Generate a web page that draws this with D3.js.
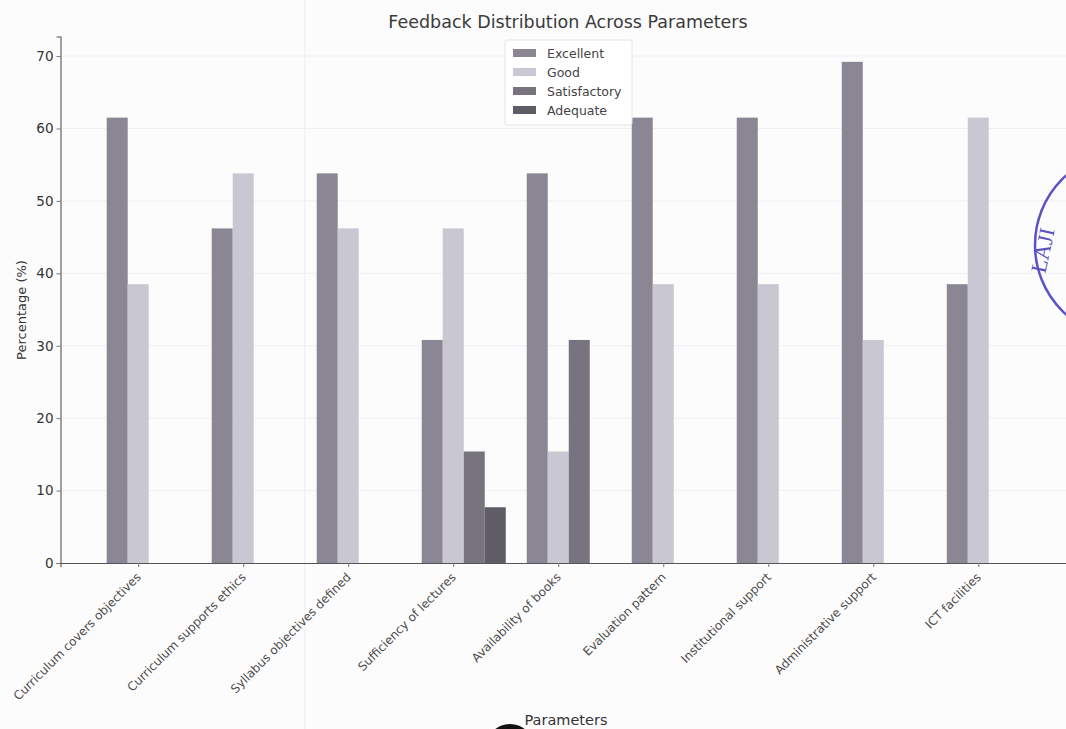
<!DOCTYPE html>
<html>
<head>
<meta charset="utf-8">
<script src="https://cdn.jsdelivr.net/npm/d3@7"></script>
<style>
  html, body { margin: 0; padding: 0; background: #fdfcfd; }
  svg { display: block; font-family: "DejaVu Sans", sans-serif; }
</style>
</head>
<body>
<svg id="chart" width="1066" height="729"></svg>
<script>
const categories = [
  "Curriculum covers objectives",
  "Curriculum supports ethics",
  "Syllabus objectives defined",
  "Sufficiency of lectures",
  "Availability of books",
  "Evaluation pattern",
  "Institutional support",
  "Administrative support",
  "ICT facilities"
];
const seriesNames = ["Excellent", "Good", "Satisfactory", "Adequate"];
const excellent    = [61.5, 46.2, 53.8, 30.8, 53.8, 61.5, 61.5, 69.2, 38.5];
const good         = [38.5, 53.8, 46.2, 46.2, 15.4, 38.5, 38.5, 30.8, 61.5];
const satisfactory = [0, 0, 0, 15.4, 30.8, 0, 0, 0, 0];
const adequate     = [0, 0, 0, 7.7, 0, 0, 0, 0, 0];
const yTicks = [0, 10, 20, 30, 40, 50, 60, 70];
const colors = ["#8a8694", "#c9c7d2", "#77737f", "#5f5b67"];

const seriesValues = [excellent, good, satisfactory, adequate];
const barW = 0.2;

const svg = d3.select("#chart");
const x = d3.scaleLinear().domain([-0.54, 9.14]).range([60.5, 1077]);
const y = d3.scaleLinear().domain([0, 72.7]).range([563, 36.5]);

// faint scan artefact line
svg.append("line").attr("x1", 305).attr("x2", 305).attr("y1", 0).attr("y2", 729)
  .attr("stroke", "#efedf1").attr("stroke-width", 1.2);

// faint gridlines
svg.append("g").selectAll("line").data(yTicks.filter(d => d > 0)).join("line")
  .attr("x1", x(-0.54)).attr("x2", 1077)
  .attr("y1", d => y(d)).attr("y2", d => y(d))
  .attr("stroke", "#f1eff3").attr("stroke-width", 1);

// bars
seriesValues.forEach((vals, s) => {
  svg.append("g").selectAll("rect")
    .data(vals.map((v, i) => ({ v, i })).filter(d => d.v > 0))
    .join("rect")
    .attr("x", d => x(d.i + s * barW - barW / 2))
    .attr("width", x(barW) - x(0))
    .attr("y", d => y(d.v))
    .attr("height", d => y(0) - y(d.v))
    .attr("fill", colors[s]);
});

// axes
const yAxis = d3.axisLeft(y).tickValues(yTicks).tickSize(4).tickPadding(3).tickFormat(d3.format("d"));
const gy = svg.append("g").attr("transform", `translate(${x(-0.54)},0)`).call(yAxis);
gy.select(".domain").attr("stroke", "#555").attr("stroke-width", 1.1);
gy.selectAll(".tick line").attr("stroke", "#777");
gy.selectAll(".tick text").attr("fill", "#333").attr("font-size", "13.5px").attr("font-family", "DejaVu Sans");

const xAxis = d3.axisBottom(x).tickValues(categories.map((c, i) => i + barW)).tickSize(4)
  .tickFormat((d, i) => categories[i]);
const gx = svg.append("g").attr("transform", `translate(0,${y(0)})`).call(xAxis);
gx.select(".domain").attr("stroke", "#555").attr("stroke-width", 1.1);
gx.selectAll(".tick line").attr("stroke", "#777");
gx.selectAll(".tick text")
  .attr("fill", "#4a4a4a").attr("font-size", "12px").attr("font-family", "DejaVu Sans")
  .attr("text-anchor", "end")
  .attr("dy", "0")
  .attr("transform", "translate(-2,10) rotate(-45)");

// title and labels
svg.append("text").attr("x", 568).attr("y", 28).attr("text-anchor", "middle")
  .attr("font-size", "17.5px").attr("fill", "#3a3a3a").text("Feedback Distribution Across Parameters");
svg.append("text").attr("transform", "translate(26,310) rotate(-90)").attr("text-anchor", "middle")
  .attr("font-size", "13px").attr("fill", "#333").text("Percentage (%)");
svg.append("text").attr("x", 566).attr("y", 725).attr("text-anchor", "middle")
  .attr("font-size", "14.5px").attr("fill", "#333").text("Parameters");

// legend
const lg = svg.append("g").attr("transform", "translate(505,40)");
lg.append("rect").attr("width", 127).attr("height", 85).attr("rx", 2)
  .attr("fill", "#ffffff").attr("stroke", "#e4e2e6");
seriesNames.forEach((n, i) => {
  lg.append("rect").attr("x", 8).attr("y", 9 + i * 19).attr("width", 23).attr("height", 8).attr("fill", colors[i]);
  lg.append("text").attr("x", 42).attr("y", 17.5 + i * 19).attr("font-size", "12.5px").attr("fill", "#444").text(n);
});

// scan artefacts: punch hole and stamp
svg.append("circle").attr("cx", 510).attr("cy", 748).attr("r", 24).attr("fill", "#111");
svg.append("circle").attr("cx", 1128).attr("cy", 245).attr("r", 93)
  .attr("fill", "none").attr("stroke", "#5b52c6").attr("stroke-width", 2.5);
svg.append("text").attr("transform", "translate(1050,252) rotate(-78)").attr("text-anchor", "middle")
  .attr("font-family", "Liberation Serif").attr("font-size", "22px").attr("fill", "#5b52c6").text("LAJI");
</script>
</body>
</html>
